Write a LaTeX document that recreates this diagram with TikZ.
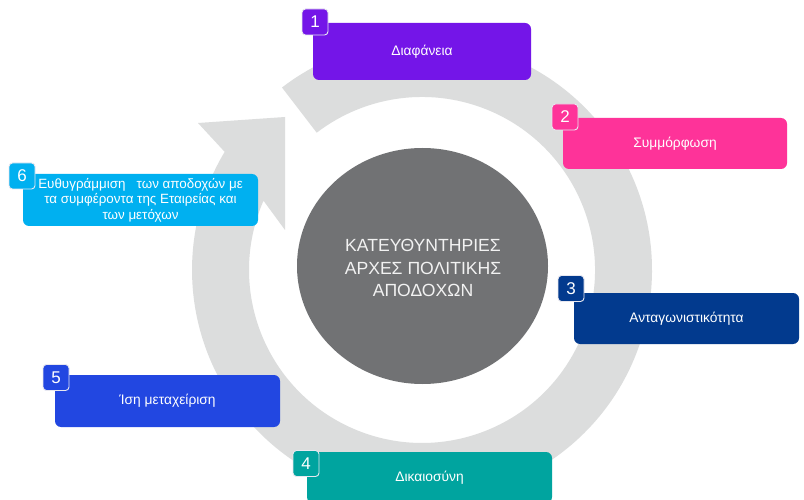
\documentclass[tikz,border=0pt]{standalone}
\usepackage{fontspec}
\setmainfont{Liberation Sans}
\usetikzlibrary{shapes.geometric}
\definecolor{ringgray}{HTML}{DCDDDD}
\definecolor{hubgray}{HTML}{717274}
\definecolor{hubtext}{HTML}{F2F2F2}
\definecolor{cA}{HTML}{7415E8}
\definecolor{cB}{HTML}{FE3399}
\definecolor{cC}{HTML}{023A8E}
\definecolor{cD}{HTML}{00A49F}
\definecolor{cE}{HTML}{2247E1}
\definecolor{cF}{HTML}{00B0F0}
\definecolor{edgelight}{HTML}{E8E8F0}
\begin{document}
\begin{tikzpicture}[x=1pt,y=-1pt,
  box/.style={rectangle, rounded corners=6pt, text=white, align=center,
    inner sep=0pt, font=\fontsize{13.8}{15}\selectfont},
  badge/.style={rectangle, rounded corners=3.5pt, draw=edgelight, line width=0.9pt,
    minimum width=26pt, minimum height=26pt, inner sep=0pt, text=white,
    font=\fontsize{17}{17}\selectfont}]
\useasboundingbox (0,0) rectangle (804,500);
\fill[white] (0,0) rectangle (804,500);
% circular arrow
\fill[ringgray] (282,87.5) arc[start angle=-127.5, end angle=210.9, radius=230]
  -- (198,123) -- (285,117) -- (285,230) -- (263.5,200.7)
  arc[start angle=203.6, end angle=-127.5, radius=173] -- cycle;
% hub
\node[ellipse, fill=hubgray, minimum width=251pt, minimum height=236pt, inner sep=0pt] (hub) at (422.5,266) {};
\node[text=hubtext, align=center, inner sep=0pt, font=\fontsize{17.6}{22.5}\selectfont] (hubtxt) at (423,268)
  {ΚΑΤΕΥΘΥΝΤΗΡΙΕΣ\\ΑΡΧΕΣ ΠΟΛΙΤΙΚΗΣ\\ΑΠΟΔΟΧΩΝ};
% boxes
\node[box, fill=cA, minimum width=218pt, minimum height=57pt] (b1) at (422,51.5) {Διαφάνεια};
\node[box, fill=cB, minimum width=224pt, minimum height=51pt] (b2) at (675,143.5) {Συμμόρφωση};
\node[box, fill=cC, minimum width=225pt, minimum height=51pt] (b3) at (686.5,318.5) {Ανταγωνιστικότητα};
\node[box, fill=cD, minimum width=245pt, minimum height=51pt] (b4) at (429.5,477.5) {Δικαιοσύνη};
\node[box, fill=cE, minimum width=225pt, minimum height=52pt] (b5) at (167.5,401) {Ίση μεταχείριση};
\node[box, fill=cF, minimum width=235pt, minimum height=52pt, font=\fontsize{13.4}{15.5}\selectfont] (b6) at (140.5,200)
  {Ευθυγράμμιση\ \ \ των αποδοχών με\\τα συμφέροντα της Εταιρείας και\\των μετόχων};
% badges
\node[badge, fill=cA] (n1) at (315,22) {1};
\node[badge, fill=cB] (n2) at (565,117) {2};
\node[badge, fill=cC] (n3) at (571,288.5) {3};
\node[badge, fill=cD] (n4) at (306,463.5) {4};
\node[badge, fill=cE] (n5) at (56,377.5) {5};
\node[badge, fill=cF] (n6) at (22,176) {6};
\end{tikzpicture}
\end{document}
